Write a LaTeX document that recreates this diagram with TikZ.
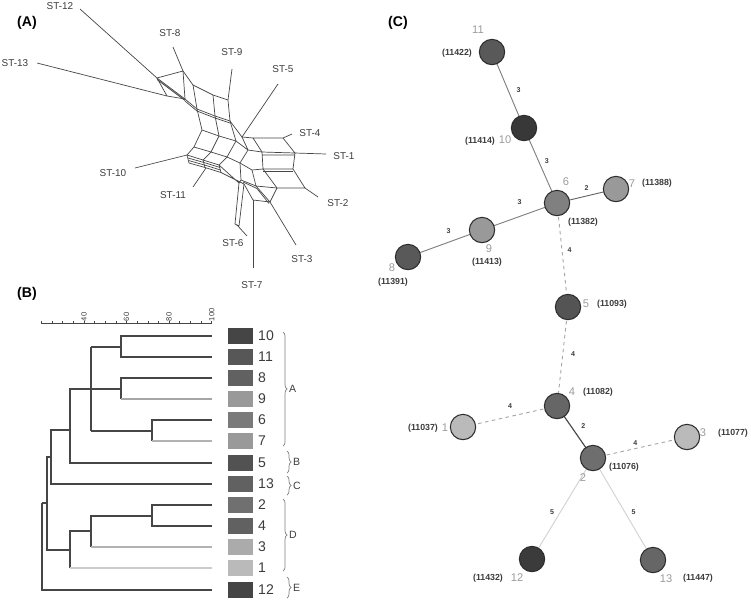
\documentclass[tikz,border=0pt]{standalone}
\usepackage{fontspec}
\setmainfont{Liberation Sans}
\usetikzlibrary{positioning, calc, decorations.pathreplacing}
\definecolor{netgray}{RGB}{70, 70, 70}
\definecolor{txtgray}{RGB}{60, 60, 60}
\definecolor{idgray}{RGB}{155, 155, 155}
\definecolor{rimgray}{RGB}{45, 45, 45}

\begin{document}
\begin{tikzpicture}[x=0.03cm, y=-0.03cm, font=\small,
    net/.style={draw=netgray, line width=0.6pt, line join=round},
    stl/.style={font=\fontsize{8.5}{9}\selectfont, text=txtgray, inner sep=0pt},
    panel/.style={font=\fontsize{12}{13}\selectfont\bfseries, inner sep=0pt},
    branch/.style={draw=netgray, line width=1.6pt},
    sq/.style={draw=none, minimum width=0.73cm, minimum height=0.5cm, inner sep=0pt},
    leafno/.style={font=\fontsize{12}{13}\selectfont, text=txtgray, anchor=west, inner sep=0pt},
    grp/.style={draw=gray, line width=0.6pt, decorate, decoration={brace, amplitude=3.5pt}},
    grplab/.style={font=\fontsize{9}{10}\selectfont, text=txtgray, inner sep=0pt},
    st/.style={circle, draw=rimgray, line width=0.9pt, minimum size=0.76cm, inner sep=0pt},
    idl/.style={font=\fontsize{9.5}{10}\selectfont, text=idgray, inner sep=0pt},
    snl/.style={font=\fontsize{7.5}{8}\selectfont\bfseries, text=txtgray, inner sep=0pt},
    elab/.style={font=\fontsize{6}{7}\selectfont\bfseries, text=txtgray, inner sep=0pt}]
  \useasboundingbox (0,0) rectangle (751,604);

  % ---------- (A) split network ----------
  \node[panel] (pa) at (27,23) {(A)};
  % pendant edges
  \draw[net] (80,9) -- (157,78);
  \draw[net] (37,63) -- (167,96);
  \draw[net] (173,47) -- (183,71);
  \draw[net] (232,69) -- (228,100);
  \draw[net] (278,84) -- (242,137);
  \draw[net] (292,134) -- (283,138);
  \draw[net] (326,154) -- (295,153);
  \draw[net] (318,197) -- (305,188);
  \draw[net] (296,245) -- (270,202);
  \draw[net] (253,268) -- (253,200);
  \draw[net] (237,225) -- (247,236);
  \draw[net] (135,168) -- (187,155);
  \draw[net] (193,187) -- (206,168);
  % upper band
  \draw[net] (157,78) -- (183,71) -- (193,85) -- (213,95) -- (228,100);
  \draw[net] (167,96) -- (185,99) -- (197,109) -- (215,116) -- (230,121);
  \draw[net] (185,101) -- (197,111) -- (215,118) -- (230,123);
  \draw[net] (157,78) -- (185,99) (157,79.5) -- (185,100.5);
  \draw[net] (157,78) -- (167,96) (183,71) -- (185,99) (193,85) -- (197,109)
             (213,95) -- (215,116) (228,100) -- (230,121);
  % left band
  \draw[net] (197,109) -- (202,130) -- (194,147) -- (187,155);
  \draw[net] (215,116) -- (219,136) -- (211,152) -- (203,160);
  \draw[net] (230,121) -- (236,141) -- (227,157) -- (219,165);
  \draw[net] (202,130) -- (219,136) -- (236,141) (194,147) -- (211,152) -- (227,157);
  \draw[net] (187,155) -- (203,160) -- (219,165);
  \draw[net] (188,158) -- (204,162.5) -- (220,167.5) (188.5,160.5) -- (204.5,165) -- (220.5,170)
             (189,163) -- (205,167.5) -- (221,172.5);
  \draw[net] (187,155) -- (189,163) (203,160) -- (205,167.5) (219,165) -- (221,172.5);
  \draw[net] (219,165) -- (239,183) (221,172.5) -- (244,184);
  % centre
  \draw[net] (230,121) -- (242,137) -- (253,138);
  \draw[net] (236,141) -- (248,150) -- (262,152) (242,137) -- (248,150);
  \draw[net] (227,157) -- (240,163) -- (252,170) -- (263,169) (248,150) -- (240,163);
  \draw[net] (240,163) -- (241,180) (252,170) -- (256,186);
  \draw[net] (241,180) -- (256,186) -- (270,202) -- (253,200) -- (244,184);
  \draw[net] (243,182) -- (257,188.5) -- (269,203.5);
  % right cluster
  \draw[net] (253,138) -- (283,138) -- (295,153) -- (262,152) -- cycle;
  \draw[net] (262,152) -- (263,169) -- (293,169) -- (295,153) (262,155) -- (294,155);
  \draw[net] (263,171) -- (293,171);
  \draw[net] (263,169) -- (277,188) -- (305,188) -- (293,169) (277,188) -- (270,202);
  \draw[net] (256,186) -- (277,188);
  % lower arm
  \draw[net] (239,183) -- (235,224) -- (239,226) -- (244,184);
  \draw[net] (241,180) -- (239,183);
  % taxon labels
  \node[stl] (t12) at (60,6)   {ST-12};
  \node[stl] (t13) at (15,63)  {ST-13};
  \node[stl] (t8)  at (170,33) {ST-8};
  \node[stl] (t9)  at (232,52) {ST-9};
  \node[stl] (t5)  at (283,69) {ST-5};
  \node[stl] (t4)  at (310,133) {ST-4};
  \node[stl] (t1)  at (344,156) {ST-1};
  \node[stl] (t10) at (113,173) {ST-10};
  \node[stl] (t11) at (173,195) {ST-11};
  \node[stl] (t2)  at (338,203) {ST-2};
  \node[stl] (t6)  at (233,243) {ST-6};
  \node[stl] (t3)  at (302,259) {ST-3};
  \node[stl] (t7)  at (252,285) {ST-7};

  % ---------- (B) dendrogram ----------
  \node[panel] (pb) at (27,294) {(B)};
  \draw[netgray, line width=0.5pt] (41.4,323) -- (211.7,323);
  \foreach \v in {20,25,...,100}
    \draw[netgray, line width=0.5pt] ({84+(\v-40)*2.128},323) -- ++(0,-2.5);
  \foreach \v in {40,60,80,100}
    \node[font=\fontsize{6.5}{7}\selectfont, text=txtgray, rotate=90, anchor=west, inner sep=0.5pt]
      at ({84+(\v-40)*2.128},322) {\v};
  % leaf ends
  \coordinate (l10) at (212,336); \coordinate (l11) at (212,357);
  \coordinate (l8)  at (212,378); \coordinate (l9)  at (212,399);
  \coordinate (l6)  at (212,420); \coordinate (l7)  at (212,441);
  \coordinate (l5)  at (212,463); \coordinate (l13) at (212,484);
  \coordinate (l2)  at (212,505); \coordinate (l4)  at (212,526);
  \coordinate (l3)  at (212,547); \coordinate (l1)  at (212,568);
  \coordinate (l12) at (212,590);
  % internal nodes
  \coordinate (d1011) at (121,347);
  \coordinate (d89)   at (121,389);
  \coordinate (d67)   at (152,431);
  \coordinate (dA)    at (91,389);
  \coordinate (dAB)   at (70,430);
  \coordinate (dABC)  at (51,457);
  \coordinate (d24)   at (152,516);
  \coordinate (dD1)   at (91,531);
  \coordinate (dD)    at (70,550);
  \coordinate (dAD)   at (47,503);
  \coordinate (droot) at (42,503);
  \draw[branch] (d1011) |- (l10); \draw[branch] (d1011) |- (l11);
  \draw[branch] (d89) |- (l8);    \draw[branch] (d89) -- (d89 |- l9);
  \draw[branch, draw=gray!70] (d89 |- l9) -- (l9);
  \draw[branch] (d67) |- (l6);    \draw[branch] (d67) -- (d67 |- l7);
  \draw[branch, draw=gray!60] (d67 |- l7) -- (l7);
  \draw[branch] (dA |- d1011) -- (dA |- d67);
  \draw[branch] (dA |- d1011) -- (d1011); \draw[branch] (dA) -- (d89); \draw[branch] (dA |- d67) -- (d67);
  \draw[branch] (dAB) |- (dA);    \draw[branch] (dAB) |- (l5);
  \draw[branch] (dABC) |- (dAB);  \draw[branch] (dABC) |- (l13);
  \draw[branch] (d24) |- (l2);    \draw[branch] (d24) |- (l4);
  \draw[branch] (dD1) |- (d24);   \draw[branch] (dD1) -- (dD1 |- l3);
  \draw[branch, draw=gray!60] (dD1 |- l3) -- (l3);
  \draw[branch] (dD) |- (dD1);    \draw[branch] (dD) -- (dD |- l1);
  \draw[branch, draw=gray!40] (dD |- l1) -- (l1);
  \draw[branch] (dAD) |- (dABC);  \draw[branch] (dAD) |- (dD);
  \draw[branch] (droot) -- (dAD); \draw[branch] (droot) |- (l12);
  % colour keys
  \node[sq, fill=black!73] (q10) at (240.5,336) {};
  \node[sq, fill=black!66] (q11) at (240.5,357) {};
  \node[sq, fill=black!62] (q8)  at (240.5,378) {};
  \node[sq, fill=black!40] (q9)  at (240.5,399) {};
  \node[sq, fill=black!52] (q6)  at (240.5,420) {};
  \node[sq, fill=black!40] (q7)  at (240.5,441) {};
  \node[sq, fill=black!68] (q5)  at (240.5,463) {};
  \node[sq, fill=black!62] (q13) at (240.5,484) {};
  \node[sq, fill=black!56] (q2)  at (240.5,505) {};
  \node[sq, fill=black!62] (q4)  at (240.5,526) {};
  \node[sq, fill=black!33] (q3)  at (240.5,547) {};
  \node[sq, fill=black!27] (q1)  at (240.5,568) {};
  \node[sq, fill=black!73] (q12) at (240.5,590) {};
  \node[leafno] at (258,336) {10}; \node[leafno] at (258,357) {11};
  \node[leafno] at (258,378) {8};  \node[leafno] at (258,399) {9};
  \node[leafno] at (258,420) {6};  \node[leafno] at (258,441) {7};
  \node[leafno] at (258,463) {5};  \node[leafno] at (258,484) {13};
  \node[leafno] at (258,505) {2};  \node[leafno] at (258,526) {4};
  \node[leafno] at (258,547) {3};  \node[leafno] at (258,568) {1};
  \node[leafno] at (258,590) {12};
  % groups
  \draw[grp] (283,332) -- (283,446) node[midway, right=5pt, grplab] {A};
  \draw[grp] (287,451) -- (287,473) node[midway, right=5pt, grplab] {B};
  \draw[grp] (287,476) -- (287,495) node[midway, right=5pt, grplab] {C};
  \draw[grp] (283,499) -- (283,571) node[midway, right=5pt, grplab] {D};
  \draw[grp] (287,577) -- (287,598) node[midway, right=5pt, grplab] {E};

  % ---------- (C) minimum spanning tree ----------
  \node[panel] (pc) at (398,23) {(C)};
  % connectors first, circles drawn over them
  \coordinate (c11) at (492,52);   \coordinate (c10) at (524,128);
  \coordinate (c6)  at (557,203);  \coordinate (c7)  at (616,189);
  \coordinate (c9)  at (482,230);  \coordinate (c8)  at (408,257);
  \coordinate (c5)  at (568,307);  \coordinate (c4)  at (557,406);
  \coordinate (c1)  at (463,427);  \coordinate (c2)  at (593,458);
  \coordinate (c3)  at (687,437);  \coordinate (c12) at (532,559);
  \coordinate (c13) at (653,560);
  \draw[gray, line width=0.8pt] (c11) -- node[elab, xshift=9pt] {3} (c10);
  \draw[gray, line width=0.8pt] (c10) -- node[elab, xshift=5.5pt, yshift=4pt] {3} (c6);
  \draw[black!60, line width=0.8pt] (c6) -- node[elab, yshift=7pt] {2} (c7);
  \draw[gray, line width=0.8pt] (c6) -- node[elab, yshift=12pt] {3} (c9);
  \draw[gray, line width=0.8pt] (c9) -- node[elab, xshift=3pt, yshift=11pt] {3} (c8);
  \draw[gray!70, line width=0.8pt, dashed] (c6) -- node[elab, xshift=6pt, yshift=4pt] {4} (c5);
  \draw[gray!70, line width=0.8pt, dashed] (c5) -- node[elab, xshift=9pt, yshift=2pt] {4} (c4);
  \draw[gray!70, line width=0.8pt, dashed] (c4) -- node[elab, yshift=9pt] {4} (c1);
  \draw[black!70, line width=1pt] (c4) -- node[elab, xshift=7pt, yshift=5pt] {2} (c2);
  \draw[gray!70, line width=0.8pt, dashed] (c2) -- node[elab, xshift=-4pt, yshift=4pt] {4} (c3);
  \draw[gray!35, line width=0.8pt] (c2) -- node[elab, xshift=-9pt, yshift=-3pt] {5} (c12);
  \draw[gray!35, line width=0.8pt] (c2) -- node[elab, xshift=9pt, yshift=-3pt] {5} (c13);
  \node[st, fill=black!65] (n11) at (c11) {};
  \node[st, fill=black!78] (n10) at (c10) {};
  \node[st, fill=black!50] (n6)  at (c6)  {};
  \node[st, fill=black!40] (n7)  at (c7)  {};
  \node[st, fill=black!40] (n9)  at (c9)  {};
  \node[st, fill=black!65] (n8)  at (c8)  {};
  \node[st, fill=black!67] (n5)  at (c5)  {};
  \node[st, fill=black!60] (n4)  at (c4)  {};
  \node[st, fill=black!27] (n1)  at (c1)  {};
  \node[st, fill=black!57] (n2)  at (c2)  {};
  \node[st, fill=black!27] (n3)  at (c3)  {};
  \node[st, fill=black!77] (n12) at (c12) {};
  \node[st, fill=black!60] (n13) at (c13) {};
  % labels
  \node[idl] at (478,30)  {11};  \node[snl] at (457,53)  {(11422)};
  \node[idl] at (505,140) {10};  \node[snl] at (480,141) {(11414)};
  \node[idl] at (566,182) {6};   \node[snl] at (583,222) {(11382)};
  \node[idl] at (632,184) {7};   \node[snl] at (657,183) {(11388)};
  \node[idl] at (489,249) {9};   \node[snl] at (487,262) {(11413)};
  \node[idl] at (392,268) {8};   \node[snl] at (393,282) {(11391)};
  \node[idl] at (586,304) {5};   \node[snl] at (612,304) {(11093)};
  \node[idl] at (572,392) {4};   \node[snl] at (598,392) {(11082)};
  \node[idl] at (445,428) {1};   \node[snl] at (423,428) {(11037)};
  \node[idl] at (583,478) {2};   \node[snl] at (624,467) {(11076)};
  \node[idl] at (703,433) {3};   \node[snl] at (733,433) {(11077)};
  \node[idl] at (517,578) {12};  \node[snl] at (488,578) {(11432)};
  \node[idl] at (666,579) {13};  \node[snl] at (698,578) {(11447)};
\end{tikzpicture}
\end{document}
